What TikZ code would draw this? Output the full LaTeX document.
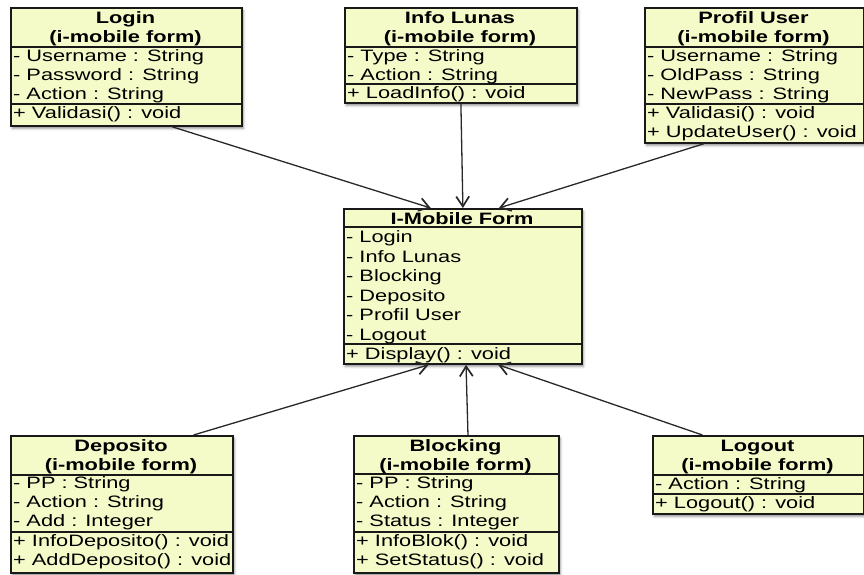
\documentclass[tikz,border=0pt]{standalone}
\usepackage{fontspec}
\setmainfont{Liberation Sans}[FakeStretch=1.32]
\usetikzlibrary{arrows.meta,calc,shadows.blur}

\definecolor{classfill}{RGB}{245,251,200}
\definecolor{classline}{RGB}{25,25,25}
\definecolor{linkline}{RGB}{40,40,40}

\tikzset{
  classbox/.style={draw=classline, line width=1.8pt, fill=classfill,
    anchor=north west, inner sep=0pt,
    blur shadow={shadow xshift=1.5pt, shadow yshift=-2.5pt,
                 shadow blur radius=2.5pt, shadow opacity=45}},
  divider/.style={draw=classline, line width=1.5pt},
  titletext/.style={font=\fontsize{16.5}{19}\selectfont\bfseries,
    inner sep=0pt, text height=11.8pt, text depth=0pt, anchor=center},
  rowtext/.style={font=\fontsize{16.5}{19}\selectfont,
    inner sep=0pt, text height=11.8pt, text depth=0pt, anchor=west},
  link/.style={draw=linkline, line width=1.3pt,
    -{Straight Barb[length=10pt,width=13pt,line width=1.7pt]}},
}

% #1 name, #2 left, #3 top, #4 right, #5 bottom,
% #6 first divider, #7 second divider, #8 title lines
\newcommand{\umlclass}[8]{%
  \node[classbox, minimum width={(#4-#2)*1pt}, minimum height={(#5-#3)*1pt}]
    (#1) at (#2,#3) {};
  \draw[divider] (#2,#6) -- (#4,#6);
  \draw[divider] (#2,#7) -- (#4,#7);
  \foreach \t [count=\i] in {#8}
    \node[titletext] (#1-title\i) at ({(#2+#4)/2},{#3+10.3+19*(\i-1)}) {\t};
}

% #1 name prefix, #2 left, #3 first row centre, #4 pitch, #5 rows
\newcommand{\umlrows}[5]{%
  \foreach \r [count=\i] in {#5}
    \node[rowtext] (#1\i) at ({#2+3},{#3+#4*(\i-1)}) {\r};
}

\begin{document}
\begin{tikzpicture}[x=1pt,y=-1pt]
\useasboundingbox (0,0) rectangle (864,574);

% ---- forms on the top row
\umlclass{login}{10}{7}{241}{125}{47}{104}{{Login},{(i-mobile form)}}
\umlrows{login-a}{10}{56}{18.7}{{- Username : String},{- Password : String},{- Action : String}}
\umlrows{login-m}{10}{113}{19}{{+ Validasi() : void}}

\umlclass{info}{344}{7}{576}{102}{47}{84}{{Info Lunas},{(i-mobile form)}}
\umlrows{info-a}{344}{56}{19}{{- Type : String},{- Action : String}}
\umlrows{info-m}{344}{93}{19}{{+ LoadInfo() : void}}

\umlclass{profil}{644}{7}{863}{142}{47}{104}{{Profil User},{(i-mobile form)}}
\umlrows{profil-a}{644}{56}{18.8}{{- Username : String},{- OldPass : String},{- NewPass : String}}
\umlrows{profil-m}{644}{113}{19}{{+ Validasi() : void},{+ UpdateUser() : void}}

% ---- main form
\umlclass{main}{343}{208}{581}{363}{227}{344}{{I-Mobile Form}}
\umlrows{main-a}{343}{237}{19.5}{{- Login},{- Info Lunas},{- Blocking},{- Deposito},{- Profil User},{- Logout}}
\umlrows{main-m}{343}{353.5}{19}{{+ Display() : void}}

% ---- forms on the bottom row
\umlclass{deposito}{10}{435}{232}{572}{475}{532}{{Deposito},{(i-mobile form)}}
\umlrows{deposito-a}{10}{483}{19}{{- PP : String},{- Action : String},{- Add : Integer}}
\umlrows{deposito-m}{10}{540.5}{19}{{+ InfoDeposito() : void},{+ AddDeposito() : void}}

\umlclass{blocking}{353}{435}{558}{572}{474}{532}{{Blocking},{(i-mobile form)}}
\umlrows{blocking-a}{353}{483}{19}{{- PP : String},{- Action : String},{- Status : Integer}}
\umlrows{blocking-m}{353}{540.5}{19}{{+ InfoBlok() : void},{+ SetStatus() : void}}

\umlclass{logout}{652}{435}{863}{513}{475}{494}{{Logout},{(i-mobile form)}}
\umlrows{logout-a}{652}{484}{19}{{- Action : String}}
\umlrows{logout-m}{652}{503}{19}{{+ Logout() : void}}

% ---- associations towards the main form
\draw[link] ($(login.south west)!0.697!(login.south east)$) -- ($(main.north west)!0.366!(main.north east)$);
\draw[link] ($(info.south west)!0.5!(info.south east)$) -- ($(main.north west)!0.5!(main.north east)$);
\draw[link] ($(profil.south west)!0.27!(profil.south east)$) -- ($(main.north west)!0.65!(main.north east)$);
\draw[link] ($(deposito.north west)!0.82!(deposito.north east)$) -- ($(main.south west)!0.357!(main.south east)$);
\draw[link] ($(blocking.north west)!0.556!(blocking.north east)$) -- ($(main.south west)!0.513!(main.south east)$);
\draw[link] ($(logout.north west)!0.237!(logout.north east)$) -- ($(main.south west)!0.647!(main.south east)$);
\end{tikzpicture}
\end{document}
